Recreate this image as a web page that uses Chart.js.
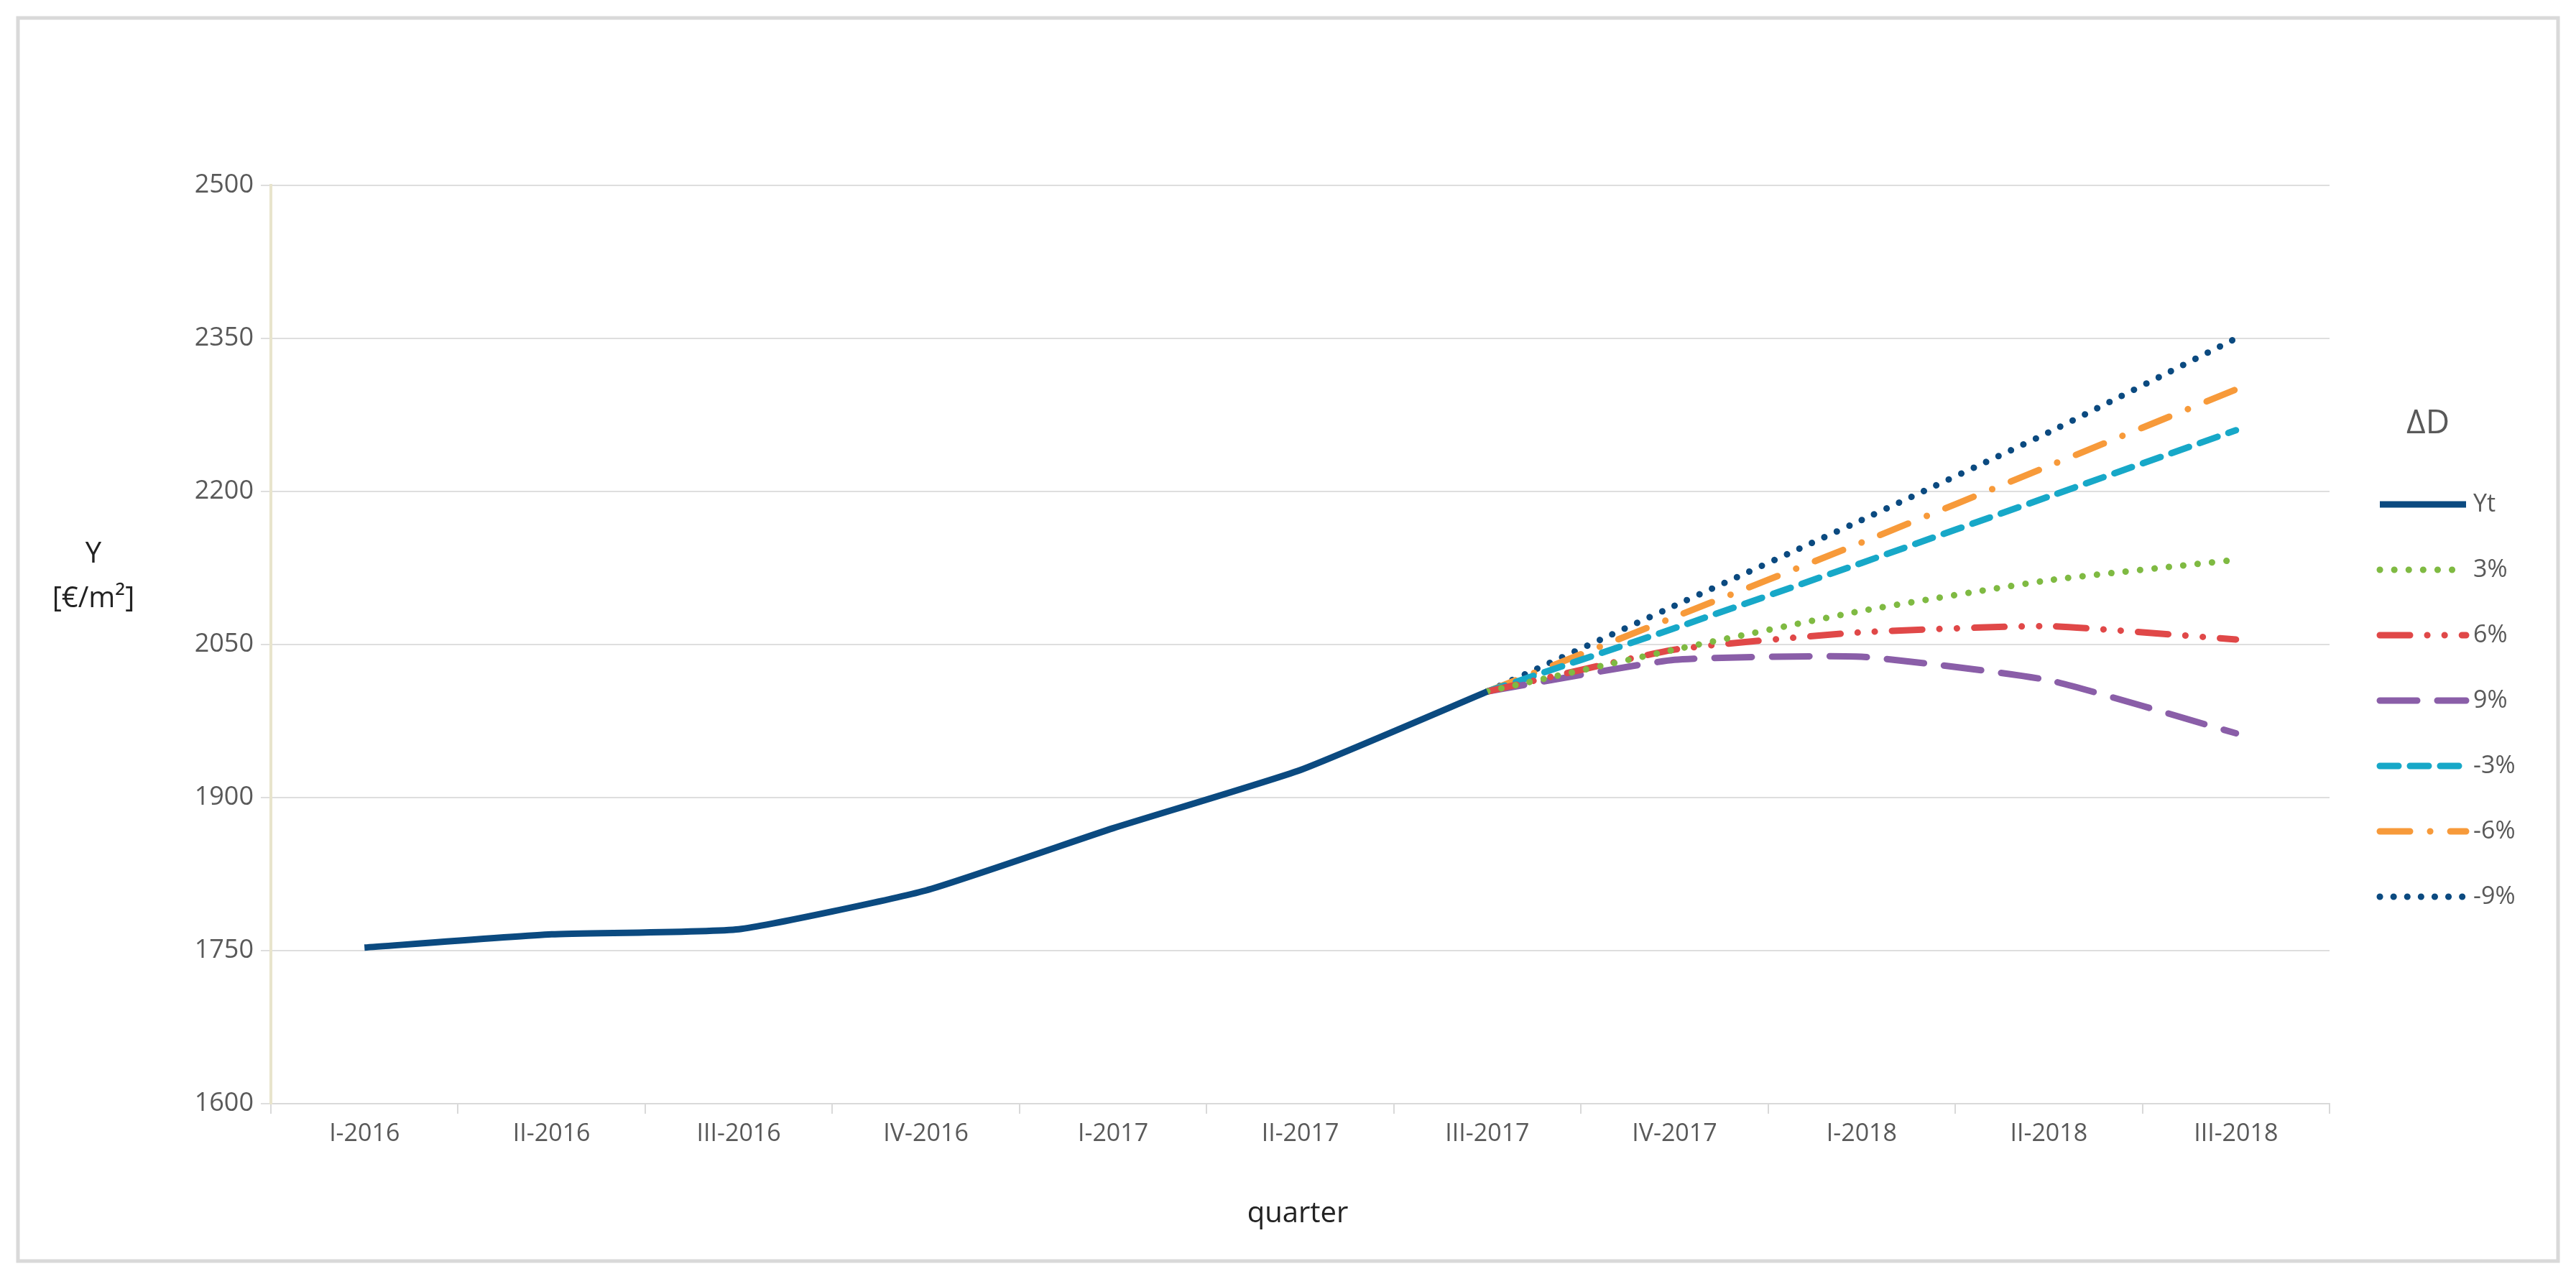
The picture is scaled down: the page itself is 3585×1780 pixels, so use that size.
<!DOCTYPE html>
<html>
<head>
<meta charset="utf-8">
<script src="https://cdn.jsdelivr.net/npm/chart.js@4"></script>
<style>
  body { margin: 0; background: #fff; }
  canvas { display: block; }
</style>
</head>
<body>
<canvas id="chart" width="3585" height="1780"></canvas>
<script>
// quarters on the x axis
const quarters = ['I-2016','II-2016','III-2016','IV-2016','I-2017','II-2017','III-2017','IV-2017','I-2018','II-2018','III-2018'];
const yTicks = [1600, 1750, 1900, 2050, 2200, 2350, 2500];

// observed series
const yt = [1753, 1766, 1771, 1809, 1870, 1927, 2004, null, null, null, null];

// forecast scenarios (start at III-2017)
const p3  = [null, null, null, null, null, null, 2004, 2045, 2083, 2113, 2133];
const p6  = [null, null, null, null, null, null, 2004, 2045, 2062, 2068, 2055];
const p9  = [null, null, null, null, null, null, 2004, 2035, 2038, 2015, 1963];
const m3  = [null, null, null, null, null, null, 2004, 2066, 2130, 2195, 2260];
const m6  = [null, null, null, null, null, null, 2004, 2077, 2150, 2225, 2300];
const m9  = [null, null, null, null, null, null, 2004, 2088, 2172, 2258, 2350];

function ds(label, data, color, dash) {
    return {
        label: label, data: data, borderColor: color, backgroundColor: color,
        borderWidth: 9, borderDash: dash, borderCapStyle: dash.length ? 'round' : 'butt',
        pointRadius: 0, tension: 0.15, fill: false, spanGaps: false
    };
}

const datasets = [
    ds('Yt', yt, '#0b4a80', []),
    ds('3%', p3, '#7fba42', [0.1, 20]),
    ds('6%', p6, '#e04848', [42, 24, 0.1, 24, 0.1, 24]),
    ds('9%', p9, '#8a5ea8', [52, 28]),
    ds('-3%', m3, '#17a8c8', [26, 16]),
    ds('-6%', m6, '#f79a3a', [42, 28, 0.1, 28]),
    ds('-9%', m9, '#0b4a80', [0.1, 19])
];

// frame, axis titles and legend drawn on the canvas
const decor = {
    id: 'decor',
    beforeDraw(chart) {
        const c = chart.ctx;
        c.save();
        c.fillStyle = '#fff';
        c.fillRect(0, 0, chart.width, chart.height);
        c.strokeStyle = '#d9d9d9';
        c.lineWidth = 5;
        c.strokeRect(25, 25, 3535, 1730);
        c.restore();
    },
    afterDraw(chart) {
        const c = chart.ctx;
        c.save();
        c.fillStyle = '#222';
        c.textAlign = 'center';
        c.textBaseline = 'middle';
        c.font = '40px "Open Sans", "Noto Sans", sans-serif';
        c.fillText('Y', 130, 772);
        c.fillText('[€/m²]', 130, 834);
        c.fillText('quarter', 1806, 1690);
        c.fillStyle = '#595959';
        c.font = '46px "Open Sans", "Noto Sans", sans-serif';
        c.fillText('ΔD', 3379, 590);
        c.font = '34px "Open Sans", "Noto Sans", sans-serif';
        c.textAlign = 'left';
        chart.data.datasets.forEach((d, i) => {
            const y = 702 + i * 91;
            c.beginPath();
            c.strokeStyle = d.borderColor;
            c.lineWidth = 9;
            c.lineCap = d.borderCapStyle;
            c.setLineDash(d.borderDash);
            c.moveTo(3312, y);
            c.lineTo(3432, y);
            c.stroke();
            c.setLineDash([]);
            c.fillText(d.label, 3442, y);
        });
        c.restore();
    }
};

new Chart(document.getElementById('chart'), {
    type: 'line',
    data: { labels: quarters, datasets: datasets },
    options: {
        responsive: false,
        animation: false,
        devicePixelRatio: 1,
        layout: { padding: { top: 258, right: 343, left: 0, bottom: 0 } },
        plugins: { legend: { display: false }, tooltip: { enabled: false } },
        scales: {
            x: {
                offset: true,
                grid: { display: true, drawOnChartArea: false, offset: true, tickLength: 14, color: '#d9d9d9', lineWidth: 2 },
                border: { color: '#d9d9d9', width: 2 },
                ticks: { color: '#595959', font: { size: 34, family: '"Open Sans", "Noto Sans", sans-serif' }, padding: 8, maxRotation: 0, autoSkip: false },
                afterFit: s => { s.height = 244; }
            },
            y: {
                min: 1600, max: 2500,
                afterBuildTicks: s => { s.ticks = yTicks.map(v => ({ value: v })); },
                grid: { color: '#dedede', lineWidth: 2, tickLength: 14 },
                border: { color: '#e8e4cc', width: 4 },
                ticks: { color: '#595959', font: { size: 36, family: '"Open Sans", "Noto Sans", sans-serif' }, padding: 10, callback: v => String(v) },
                afterFit: s => { s.width = 377; }
            }
        }
    },
    plugins: [decor]
});
</script>
</body>
</html>
